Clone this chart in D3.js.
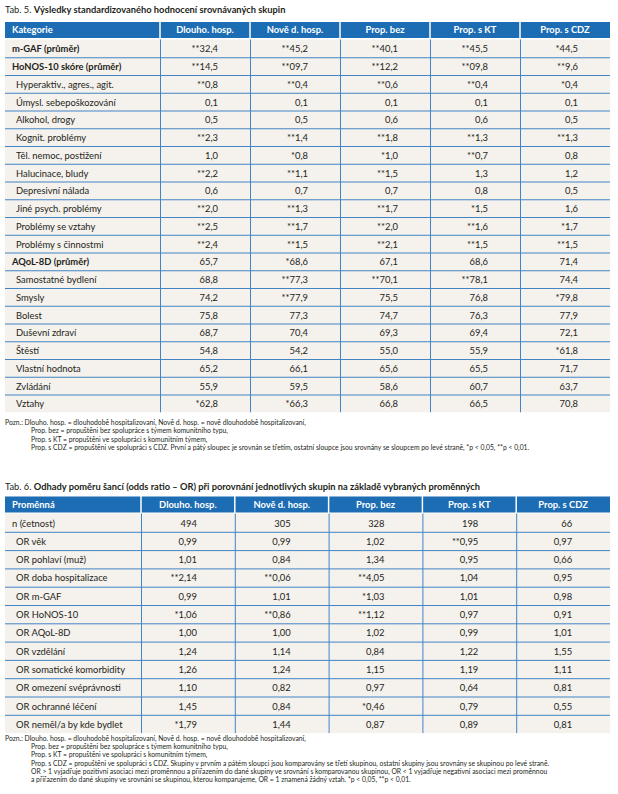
<!DOCTYPE html>
<html><head><meta charset="utf-8">
<script src="https://cdn.jsdelivr.net/npm/d3@7"></script>
<style>body{margin:0;background:#fff}svg{display:block}</style>
</head><body>
<svg id="c" width="618" height="794"></svg>
<script>
// ---------- Tab. 5 data ----------
const t5Title = ["Tab. 5. ", "Výsledky standardizovaného hodnocení srovnávaných skupin"];
const t5Columns = ["Kategorie","Dlouho. hosp.","Nově d. hosp.","Prop. bez","Prop. s KT","Prop. s CDZ"];
const t5Categories = ["m-GAF (průměr)","HoNOS-10 skóre (průměr)","Hyperaktiv., agres., agit.","Úmysl. sebepoškozování","Alkohol, drogy","Kognit. problémy","Těl. nemoc, postižení","Halucinace, bludy","Depresivní nálada","Jiné psych. problémy","Problémy se vztahy","Problémy s činnostmi","AQoL-8D (průměr)","Samostatné bydlení","Smysly","Bolest","Duševní zdraví","Štěstí","Vlastní hodnota","Zvládání","Vztahy"];
const t5Main = ["m-GAF (průměr)","HoNOS-10 skóre (průměr)","AQoL-8D (průměr)"];
const t5Dlouho = ["**32,4","**14,5","**0,8","0,1","0,5","**2,3","1,0","**2,2","0,6","**2,0","**2,5","**2,4","65,7","68,8","74,2","75,8","68,7","54,8","65,2","55,9","*62,8"];
const t5Nove   = ["**45,2","**09,7","**0,4","0,1","0,5","**1,4","*0,8","**1,1","0,7","**1,3","**1,7","**1,5","*68,6","**77,3","**77,9","77,3","70,4","54,2","66,1","59,5","*66,3"];
const t5Bez    = ["**40,1","**12,2","**0,6","0,1","0,6","**1,8","*1,0","**1,5","0,7","**1,7","**2,0","**2,1","67,1","**70,1","75,5","74,7","69,3","55,0","65,6","58,6","66,8"];
const t5KT     = ["**45,5","**09,8","**0,4","0,1","0,6","**1,3","**0,7","1,3","0,8","*1,5","**1,6","**1,5","68,6","**78,1","76,8","76,3","69,4","55,9","65,5","60,7","66,5"];
const t5CDZ    = ["*44,5","**9,6","*0,4","0,1","0,5","**1,3","0,8","1,2","0,5","1,6","*1,7","**1,5","71,4","74,4","*79,8","77,9","72,1","*61,8","71,7","63,7","70,8"];
const t5Notes = [
 "Pozn.: Dlouho. hosp. = dlouhodobě hospitalizovaní, Nově d. hosp. = nově dlouhodobě hospitalizovaní,",
 "Prop. bez = propuštěni bez spolupráce s týmem komunitního typu,",
 "Prop. s KT = propuštěni ve spolupráci s komunitním týmem,",
 "Prop. s CDZ = propuštěni ve spolupráci s CDZ. První a pátý sloupec je srovnán se třetím, ostatní sloupce jsou srovnány se sloupcem po levé straně, *p < 0,05, **p < 0,01."
];

// ---------- Tab. 6 data ----------
const t6Title = ["Tab. 6. ", "Odhady poměru šancí (odds ratio – OR) při porovnání jednotlivých skupin na základě vybraných proměnných"];
const t6Columns = ["Proměnná","Dlouho. hosp.","Nově d. hosp.","Prop. bez","Prop. s KT","Prop. s CDZ"];
const t6Categories = ["n (četnost)","OR věk","OR pohlaví (muž)","OR doba hospitalizace","OR m-GAF","OR HoNOS-10","OR AQoL-8D","OR vzdělání","OR somatické komorbidity","OR omezení svéprávnosti","OR ochranné léčení","OR neměl/a by kde bydlet"];
const t6Main = ["n (četnost)"];
const t6Dlouho = ["494","0,99","1,01","**2,14","0,99","*1,06","1,00","1,24","1,26","1,10","1,45","*1,79"];
const t6Nove   = ["305","0,99","0,84","**0,06","1,01","**0,86","1,00","1,14","1,24","0,82","0,84","1,44"];
const t6Bez    = ["328","1,02","1,34","**4,05","*1,03","**1,12","1,02","0,84","1,15","0,97","*0,46","0,87"];
const t6KT     = ["198","**0,95","0,95","1,04","1,01","0,97","0,99","1,22","1,19","0,64","0,79","0,89"];
const t6CDZ    = ["66","0,97","0,66","0,95","0,98","0,91","1,01","1,55","1,11","0,81","0,55","0,81"];
const t6Notes = [
 "Pozn.: Dlouho. hosp. = dlouhodobě hospitalizovaní, Nově d. hosp. = nově dlouhodobě hospitalizovaní,",
 "Prop. bez = propuštěni bez spolupráce s týmem komunitního typu,",
 "Prop. s KT = propuštěni ve spolupráci s komunitním týmem,",
 "Prop. s CDZ = propuštěni ve spolupráci s CDZ. Skupiny v prvním a pátém sloupci jsou komparovány se třetí skupinou, ostatní skupiny jsou srovnány se skupinou po levé straně.",
 "OR > 1 vyjadřuje pozitivní asociaci mezi proměnnou a přiřazením do dané skupiny ve srovnání s komparovanou skupinou, OR < 1 vyjadřuje negativní asociaci mezi proměnnou",
 "a přiřazením do dané skupiny ve srovnání se skupinou, kterou komparujeme, OR = 1 znamená žádný vztah. *p < 0,05, **p < 0,01."
];

// ---------- styles ----------
const FONT = "Lato, 'Open Sans', sans-serif";
const BLUE = "#1c6db4", GRID = "#4285c5", BG = "#f5f1ec", INK = "#231f20";
const svg = d3.select("#c");

function drawTable(o) {
  const g = svg.append("g");
  // title
  const tt = g.append("text").attr("x", o.left).attr("y", o.titleY)
    .attr("font-family", FONT).attr("font-size", 9.3).attr("fill", INK);
  tt.append("tspan").text(o.title[0]);
  tt.append("tspan").attr("font-weight", 700).text(o.title[1]);

  const valueCols = o.columns.slice(1);
  const x = d3.scaleBand().domain(valueCols).range([o.col1, o.right]);
  const y = d3.scaleBand().domain(o.categories).range([o.rowTop, o.rowTop + o.rowH * o.categories.length]);
  const series = o.series;

  // header
  const hx = [o.left].concat(valueCols.map(c => x(c)));
  const hw = [o.col1 - o.left].concat(valueCols.map(() => x.bandwidth()));
  g.selectAll("rect.h").data(o.columns).join("rect")
    .attr("x", (d, i) => hx[i] + (i ? 0.75 : 0))
    .attr("width", (d, i) => hw[i] - (i ? 0.75 : 0) - (i < o.columns.length - 1 ? 0.75 : 0))
    .attr("y", o.headTop).attr("height", o.headH).attr("fill", BLUE);
  g.selectAll("text.h").data(o.columns).join("text")
    .attr("x", (d, i) => i ? x(d) + x.bandwidth() / 2 : o.left + o.mainIndent)
    .attr("y", o.headTop + o.headH / 2).attr("dy", "0.36em")
    .attr("text-anchor", (d, i) => i ? "middle" : "start")
    .attr("font-family", FONT).attr("font-weight", 700).attr("font-size", 9.4)
    .attr("fill", "#fff").text(d => d);

  // body background
  g.append("rect").attr("x", o.left).attr("width", o.right - o.left)
    .attr("y", y.range()[0]).attr("height", y.range()[1] - y.range()[0]).attr("fill", BG);
  // horizontal lines between rows
  g.selectAll("line.r").data(o.categories.slice(1)).join("line")
    .attr("x1", o.left).attr("x2", o.right)
    .attr("y1", d => y(d) + 0.5).attr("y2", d => y(d) + 0.5)
    .attr("stroke", GRID).attr("stroke-width", 1);
  // vertical lines
  g.selectAll("line.v").data(valueCols).join("line")
    .attr("x1", d => x(d) + 0.5).attr("x2", d => x(d) + 0.5)
    .attr("y1", y.range()[0]).attr("y2", y.range()[1])
    .attr("stroke", GRID).attr("stroke-width", 1);

  // labels
  g.selectAll("text.l").data(o.categories).join("text")
    .attr("x", d => o.left + (o.main.includes(d) ? o.mainIndent : o.subIndent))
    .attr("y", d => y(d) + y.bandwidth() / 2 + 0.5).attr("dy", "0.36em")
    .attr("font-family", FONT).attr("font-size", 9.4)
    .attr("font-weight", d => (o.boldMain && o.main.includes(d)) ? 700 : 400)
    .attr("fill", INK).text(d => d);

  // values
  valueCols.forEach((c, ci) => {
    g.selectAll(null).data(series[ci]).join("text")
      .attr("x", x(c) + x.bandwidth() / 2 + o.numOffset)
      .attr("y", (d, i) => y(o.categories[i]) + y.bandwidth() / 2 + 0.5).attr("dy", "0.36em")
      .attr("text-anchor", "end")
      .attr("font-family", FONT).attr("font-size", 9.4).attr("fill", INK)
      .text(d => d);
  });

  // notes
  g.selectAll("text.n").data(o.notes).join("text")
    .attr("x", (d, i) => i ? o.left + 26 : o.left)
    .attr("y", (d, i) => o.notesY + i * o.noteStep)
    .attr("font-family", FONT).attr("font-size", 6.8).attr("fill", INK)
    .text(d => d);
}

drawTable({
  title: t5Title, columns: t5Columns, categories: t5Categories, main: t5Main, boldMain: true,
  series: [t5Dlouho, t5Nove, t5Bez, t5KT, t5CDZ], notes: t5Notes,
  left: 5, right: 610, col1: 160, titleY: 13, headTop: 22, headH: 16,
  rowTop: 39.5, rowH: 17.75, mainIndent: 7, subIndent: 11, numOffset: 13,
  notesY: 425, noteStep: 8.4
});
drawTable({
  title: t6Title, columns: t6Columns, categories: t6Categories, main: t6Main, boldMain: false,
  series: [t6Dlouho, t6Nove, t6Bez, t6KT, t6CDZ], notes: t6Notes,
  left: 5, right: 610, col1: 141, titleY: 490, headTop: 496.5, headH: 16,
  rowTop: 513.5, rowH: 18.3, mainIndent: 7, subIndent: 11, numOffset: 9,
  notesY: 741, noteStep: 8.2
});
</script>
</body></html>
